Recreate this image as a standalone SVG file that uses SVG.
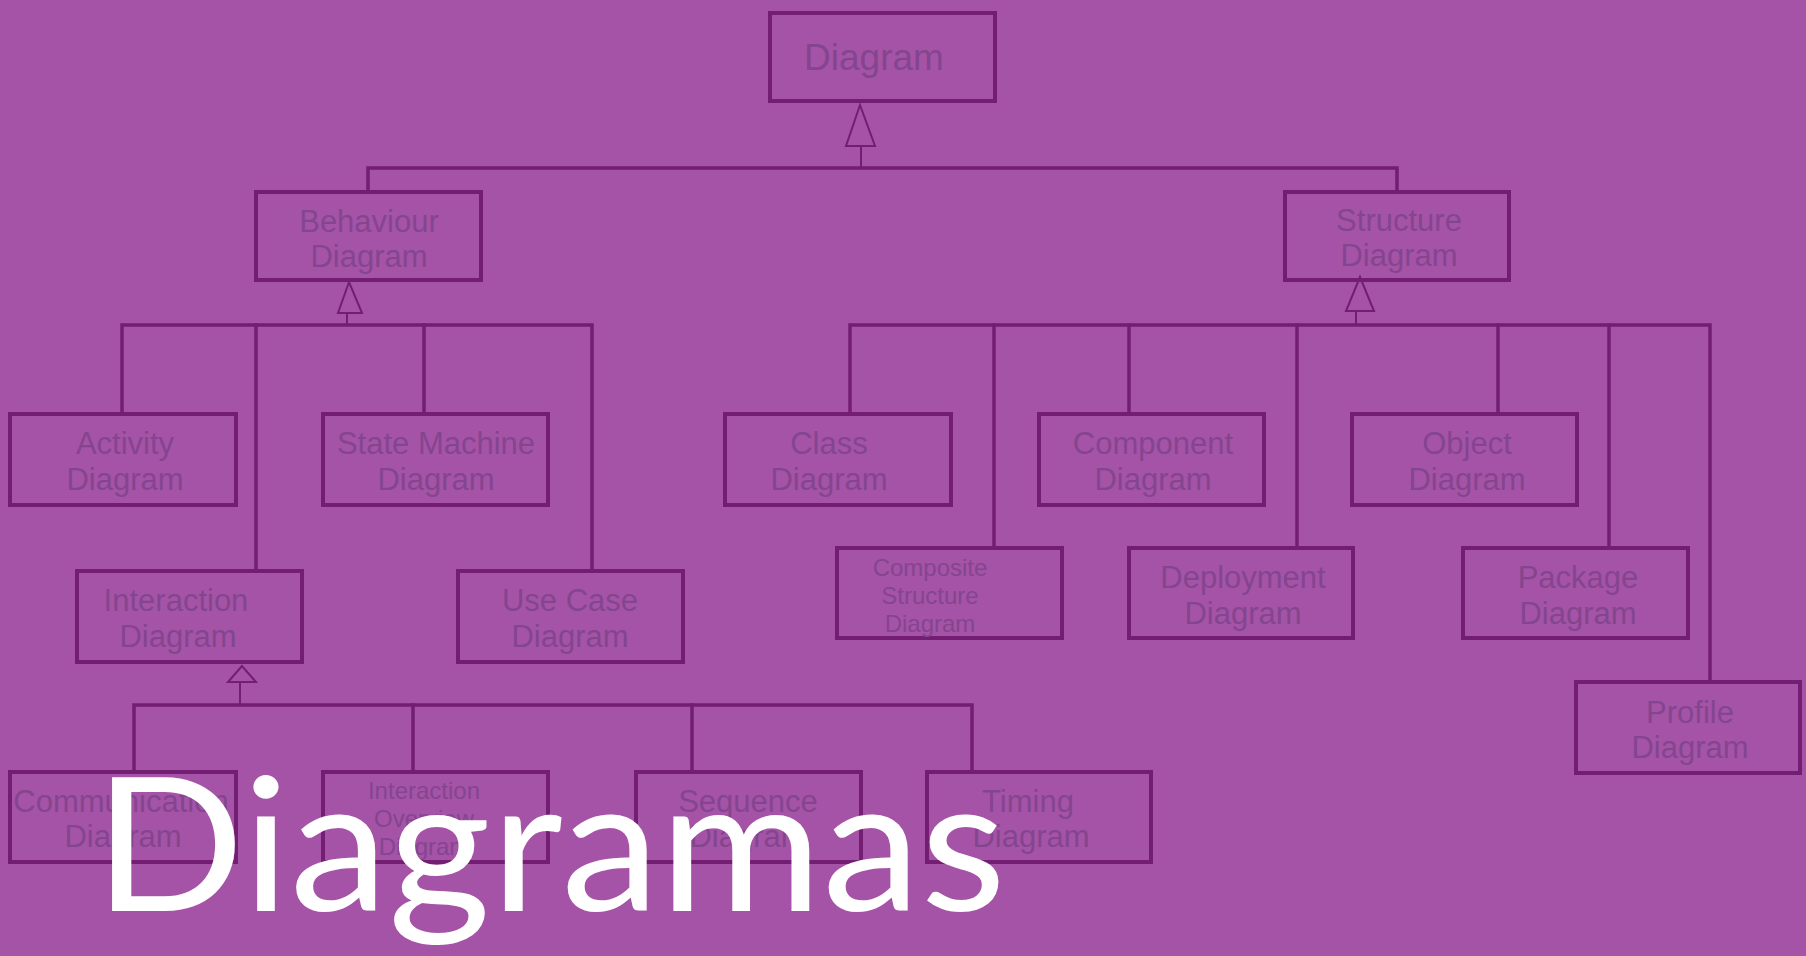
<svg xmlns="http://www.w3.org/2000/svg" width="1806" height="956" viewBox="0 0 1806 956">
  <style>
    .box { fill: none; stroke: #731e73; stroke-width: 4; }
    .lbl { font-family: "Liberation Sans", Arial, sans-serif; font-size: 31px; fill: #84458f; text-anchor: middle; }
    .sm { font-size: 24px; }
    .big { font-size: 37px; }
    .wire { fill: none; stroke: #731e73; stroke-width: 3.5; stroke-linecap: square; }
    .stem { fill: none; stroke: #731e73; stroke-width: 2; }
    .tri { fill: #a553a6; stroke: #731e73; stroke-width: 2; stroke-linejoin: miter; }
    .title { font-family: Lato, "Open Sans", sans-serif; font-size: 186px; fill: #ffffff; }
  </style>

  <rect width="1806" height="956" fill="#a553a6"/>

  <!-- generalisation connectors -->
  <g id="connectors">
    <!-- Diagram -> Behaviour / Structure -->
    <line class="stem" x1="861" y1="146" x2="861" y2="168"/>
    <polyline class="wire" points="368,192 368,168 1397,168 1397,192"/>
    <polygon class="tri" points="860,105 846,146 875,146"/>

    <!-- Behaviour subtree -->
    <line class="stem" x1="347" y1="313" x2="347" y2="325"/>
    <polyline class="wire" points="122,414 122,325 592,325 592,571"/>
    <line class="wire" x1="256" y1="325" x2="256" y2="571"/>
    <line class="wire" x1="424" y1="325" x2="424" y2="414"/>
    <polygon class="tri" points="349,282 338,313 362,313"/>

    <!-- Interaction subtree -->
    <line class="stem" x1="240" y1="682" x2="240" y2="705"/>
    <polyline class="wire" points="134,772 134,705 972,705 972,772"/>
    <line class="wire" x1="413" y1="705" x2="413" y2="772"/>
    <line class="wire" x1="692" y1="705" x2="692" y2="772"/>
    <polygon class="tri" points="242,666 228,682 256,682"/>

    <!-- Structure subtree -->
    <line class="stem" x1="1356" y1="311" x2="1356" y2="325"/>
    <polyline class="wire" points="850,414 850,325 1710,325 1710,682"/>
    <line class="wire" x1="994" y1="325" x2="994" y2="548"/>
    <line class="wire" x1="1129" y1="325" x2="1129" y2="414"/>
    <line class="wire" x1="1297" y1="325" x2="1297" y2="548"/>
    <line class="wire" x1="1498" y1="325" x2="1498" y2="414"/>
    <line class="wire" x1="1609" y1="325" x2="1609" y2="548"/>
    <polygon class="tri" points="1360,277 1346,311 1374,311"/>
  </g>

  <g id="diagram">
    <rect class="box" x="770" y="13" width="225" height="88"/>
    <text class="lbl big" x="874" y="70">Diagram</text>
  </g>

  <g id="behaviour-diagram">
    <rect class="box" x="256" y="192" width="225" height="88"/>
    <text class="lbl" x="369" y="232">Behaviour</text>
    <text class="lbl" x="369" y="267">Diagram</text>
  </g>

  <g id="structure-diagram">
    <rect class="box" x="1285" y="192" width="224" height="88"/>
    <text class="lbl" x="1399" y="231">Structure</text>
    <text class="lbl" x="1399" y="266">Diagram</text>
  </g>

  <g id="activity-diagram">
    <rect class="box" x="10" y="414" width="226" height="91"/>
    <text class="lbl" x="125" y="454">Activity</text>
    <text class="lbl" x="125" y="490">Diagram</text>
  </g>

  <g id="state-machine-diagram">
    <rect class="box" x="323" y="414" width="225" height="91"/>
    <text class="lbl" x="436" y="454">State Machine</text>
    <text class="lbl" x="436" y="490">Diagram</text>
  </g>

  <g id="interaction-diagram">
    <rect class="box" x="77" y="571" width="225" height="91"/>
    <text class="lbl" x="176" y="611">Interaction</text>
    <text class="lbl" x="178" y="647">Diagram</text>
  </g>

  <g id="use-case-diagram">
    <rect class="box" x="458" y="571" width="225" height="91"/>
    <text class="lbl" x="570" y="611">Use Case</text>
    <text class="lbl" x="570" y="647">Diagram</text>
  </g>

  <g id="communication-diagram">
    <rect class="box" x="10" y="772" width="226" height="90"/>
    <text class="lbl" x="121" y="812">Communication</text>
    <text class="lbl" x="123" y="847">Diagram</text>
  </g>

  <g id="interaction-overview-diagram">
    <rect class="box" x="323" y="772" width="225" height="90"/>
    <text class="lbl sm" x="424" y="799">Interaction</text>
    <text class="lbl sm" x="424" y="827">Overview</text>
    <text class="lbl sm" x="424" y="855">Diagram</text>
  </g>

  <g id="sequence-diagram">
    <rect class="box" x="636" y="772" width="225" height="90"/>
    <text class="lbl" x="748" y="812">Sequence</text>
    <text class="lbl" x="748" y="847">Diagram</text>
  </g>

  <g id="timing-diagram">
    <rect class="box" x="927" y="772" width="224" height="90"/>
    <text class="lbl" x="1028" y="812">Timing</text>
    <text class="lbl" x="1031" y="847">Diagram</text>
  </g>

  <g id="class-diagram">
    <rect class="box" x="725" y="414" width="226" height="91"/>
    <text class="lbl" x="829" y="454">Class</text>
    <text class="lbl" x="829" y="490">Diagram</text>
  </g>

  <g id="component-diagram">
    <rect class="box" x="1039" y="414" width="225" height="91"/>
    <text class="lbl" x="1153" y="454">Component</text>
    <text class="lbl" x="1153" y="490">Diagram</text>
  </g>

  <g id="object-diagram">
    <rect class="box" x="1352" y="414" width="225" height="91"/>
    <text class="lbl" x="1467" y="454">Object</text>
    <text class="lbl" x="1467" y="490">Diagram</text>
  </g>

  <g id="composite-structure-diagram">
    <rect class="box" x="837" y="548" width="225" height="90"/>
    <text class="lbl sm" x="930" y="576">Composite</text>
    <text class="lbl sm" x="930" y="604">Structure</text>
    <text class="lbl sm" x="930" y="632">Diagram</text>
  </g>

  <g id="deployment-diagram">
    <rect class="box" x="1129" y="548" width="224" height="90"/>
    <text class="lbl" x="1243" y="588">Deployment</text>
    <text class="lbl" x="1243" y="624">Diagram</text>
  </g>

  <g id="package-diagram">
    <rect class="box" x="1463" y="548" width="225" height="90"/>
    <text class="lbl" x="1578" y="588">Package</text>
    <text class="lbl" x="1578" y="624">Diagram</text>
  </g>

  <g id="profile-diagram">
    <rect class="box" x="1576" y="682" width="224" height="91"/>
    <text class="lbl" x="1690" y="723">Profile</text>
    <text class="lbl" x="1690" y="758">Diagram</text>
  </g>

  <!-- caption over the chart -->
  <g id="caption">
    <text class="title" x="94" y="911" textLength="912" lengthAdjust="spacingAndGlyphs">Diagramas</text>
  </g>
</svg>
